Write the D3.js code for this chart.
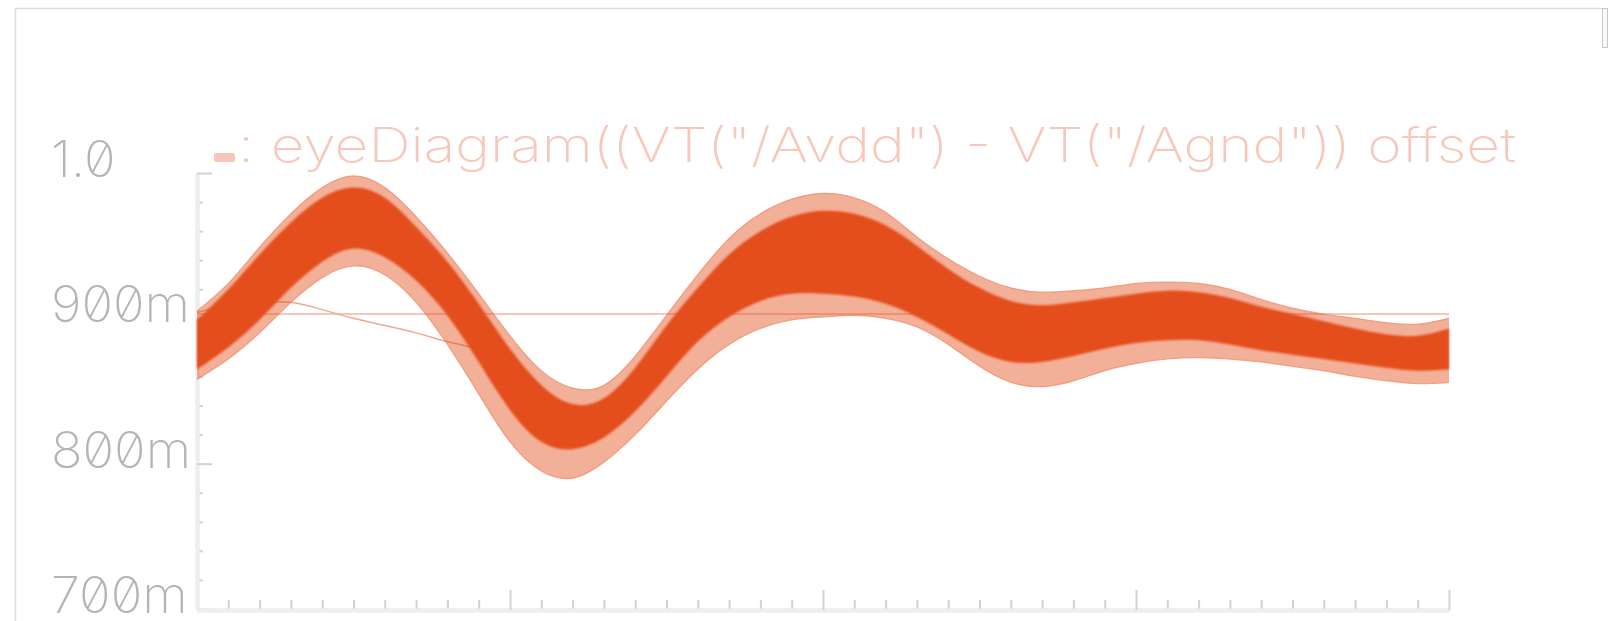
<!DOCTYPE html>
<html>
<head>
<meta charset="utf-8">
<script src="https://cdn.jsdelivr.net/npm/d3@7"></script>
<style>
  html, body { margin: 0; padding: 0; background: #fff; }
  svg { display: block; }
  .lbl { font-family: Inter, "DejaVu Sans", sans-serif; font-weight: 200; font-feature-settings: "zero" 1; }
</style>
</head>
<body>
<div id="chart"></div>
<script>
// sample times, one major x division = 1.0
var times = [0.0,0.1,0.2,0.3,0.4,0.5,0.6,0.7,0.8,0.9,1.0,1.1,1.2,1.3,1.4,1.5,1.6,1.7,1.8,1.9,
             2.0,2.1,2.2,2.3,2.4,2.5,2.6,2.7,2.8,2.9,3.0,3.1,3.2,3.3,3.4,3.5,3.6,3.7,3.8,3.9,4.0];

// eye diagram envelopes, mV
var outerTop    = [905,924,949,972,990,998,990,970,945,917,888,864,852,854,874,902,930,955,972,982,
                   986,983,973,956,941,929,921,918,919,921,924,925,924,920,913,907,903,900,897,896,900];
var coreTop     = [899,920,944,966,983,990,983,963,939,910,879,854,841,845,866,895,921,944,960,970,
                   974,972,964,950,934,921,912,909,911,914,917,919,918,914,908,903,898,893,889,888,893];
var coreBottom  = [865,880,899,921,939,948,942,926,902,870,837,815,810,818,836,860,884,901,912,917,
                   917,915,910,901,889,877,870,870,874,879,883,885,885,882,878,875,872,869,866,864,865];
var outerBottom = [858,872,890,911,928,936,930,911,882,848,815,795,790,801,820,843,865,882,893,899,
                   901,902,900,894,882,867,856,853,857,864,869,872,873,872,870,867,864,860,857,855,856];

// stray traces
var strayTimes  = [0.0,0.1,0.2,0.3,0.4,0.5,0.6,0.7,0.8,0.9,1.0];
var strayValues = [904,909,911,911,906,900,895,890,884,879,874];
var flatTimes   = [0, 4];
var flatValues  = [903, 903];

// axes
var xMajor = [0, 1, 2, 3, 4];
var yMajor = [700, 800, 900, 1000];
var yLabels = ["700m", "800m", "900m", "1.0"];
var titleText = ":  eyeDiagram((VT(\"/Avdd\") - VT(\"/Agnd\")) offset";

var W = 1608, H = 621;
var svg = d3.select("#chart").append("svg")
  .attr("width", W).attr("height", H)
  .style("background", "#fff");

var defs = svg.append("defs");
defs.append("filter").attr("id", "soft")
  .attr("x", "-5%").attr("y", "-20%").attr("width", "110%").attr("height", "140%")
  .append("feGaussianBlur").attr("stdDeviation", 1.3);
defs.append("filter").attr("id", "soft2")
  .attr("x", "-5%").attr("y", "-20%").attr("width", "110%").attr("height", "140%")
  .append("feGaussianBlur").attr("stdDeviation", 0.7);

// outer frame
svg.append("path")
  .attr("d", "M15.5," + H + "V8.5H1602")
  .attr("fill", "none").attr("stroke", "#dcdcdc").attr("stroke-width", 1.5);
svg.append("rect")
  .attr("x", 1602.5).attr("y", 8.5).attr("width", 5).attr("height", 39)
  .attr("fill", "#fafafa").attr("stroke", "#c8c8c8");

var x = d3.scaleLinear().domain([0, 4]).range([197, 1449]);
var y = d3.scaleLinear().domain([700, 1000]).range([609, 173]);

// y axis (ticks pointing into the plot)
var yMinor = d3.range(700, 1001, 20).filter(function(v) { return yMajor.indexOf(v) < 0; });
var gy = svg.append("g").attr("transform", "translate(197,0)");
gy.call(d3.axisRight(y).tickValues(yMinor).tickSize(6).tickSizeOuter(0).tickFormat(""));
gy.append("g").call(d3.axisRight(y).tickValues(yMajor).tickSize(15).tickSizeOuter(0).tickFormat(""));
gy.selectAll(".domain").attr("stroke", "#eeeeee").attr("stroke-width", 4);
gy.selectAll(".tick line").attr("stroke", "#d2d2d2").attr("stroke-width", 2);

// x axis (ticks pointing up)
var xMinor = d3.range(0, 41).map(function(i) { return i / 10; })
  .filter(function(v) { return Math.abs(v - Math.round(v)) > 1e-6; });
var gx = svg.append("g").attr("transform", "translate(0,610)");
gx.call(d3.axisTop(x).tickValues(xMinor).tickSize(10).tickSizeOuter(0).tickFormat(""));
gx.append("g").call(d3.axisTop(x).tickValues(xMajor.slice(1)).tickSize(20).tickSizeOuter(0).tickFormat(""));
gx.selectAll(".domain").attr("stroke", "#eeeeee").attr("stroke-width", 4);
gx.selectAll(".tick line").attr("stroke", "#d2d2d2").attr("stroke-width", 2);

// y labels, left aligned, glyphs a bit wider than the font's own
svg.selectAll("text.ylab").data(yMajor).enter().append("text")
  .attr("class", "lbl ylab")
  .attr("x", 51)
  .attr("y", function(d) { return y(d) + 4; })
  .attr("font-size", 50)
  .attr("fill", "#b4b4b4")
  .text(function(d, i) { return yLabels[i]; })
  .each(function() {
    var w = this.getComputedTextLength();
    d3.select(this).attr("textLength", w * 1.045).attr("lengthAdjust", "spacingAndGlyphs");
  });

// legend swatch + title
svg.append("rect").attr("x", 214).attr("y", 153).attr("width", 21).attr("height", 9)
  .attr("rx", 2).attr("fill", "#f6c6b8");
svg.append("text")
  .attr("class", "lbl")
  .attr("x", 238).attr("y", 162)
  .attr("font-size", 48)
  .attr("fill", "#f7c8ba")
  .attr("textLength", 1278).attr("lengthAdjust", "spacingAndGlyphs")
  .text(titleText);

// data
var env = times.map(function(t, i) {
  return { t: t, ot: outerTop[i], ct: coreTop[i], cb: coreBottom[i], ob: outerBottom[i] };
});
var curve = d3.curveNatural;
var orange = "#e44d1e";

var line = d3.line().curve(curve)
  .x(function(d) { return x(d[0]); })
  .y(function(d) { return y(d[1]); });

// flat offset line (behind the band)
svg.append("path")
  .datum(d3.zip(flatTimes, flatValues))
  .attr("d", line)
  .attr("fill", "none").attr("stroke", "#f2b4a2").attr("stroke-width", 1.5);

svg.append("path")
  .datum(d3.zip(strayTimes, strayValues))
  .attr("d", line)
  .attr("fill", "none").attr("stroke", "#f0a890").attr("stroke-width", 1.5);

var band = svg.append("g");

// outer band (sparse traces)
band.append("path")
  .datum(env)
  .attr("d", d3.area().curve(curve)
    .x(function(d) { return x(d.t); })
    .y0(function(d) { return y(d.ob); })
    .y1(function(d) { return y(d.ot); }))
  .attr("fill", orange).attr("fill-opacity", 0.44)
  .attr("filter", "url(#soft2)");

// outer edge traces
["ot", "ob"].forEach(function(k) {
  band.append("path")
    .datum(env.map(function(d) { return [d.t, d[k]]; }))
    .attr("d", line)
    .attr("fill", "none")
    .attr("stroke", "#ee8460")
    .attr("stroke-opacity", 0.7)
    .attr("stroke-width", 1.2);
});

// dense core
band.append("path")
  .datum(env)
  .attr("d", d3.area().curve(curve)
    .x(function(d) { return x(d.t); })
    .y0(function(d) { return y(d.cb); })
    .y1(function(d) { return y(d.ct); }))
  .attr("fill", orange)
  .attr("filter", "url(#soft)");
</script>
</body>
</html>
